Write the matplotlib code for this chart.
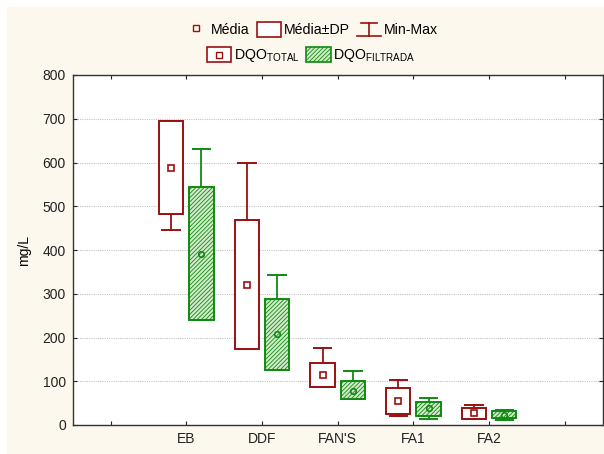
import numpy as np
import matplotlib.pyplot as plt
from matplotlib.patches import Rectangle, Patch
from matplotlib.lines import Line2D
from matplotlib.legend_handler import HandlerBase

plt.rcParams['font.family'] = ['Liberation Sans', 'DejaVu Sans']
plt.rcParams['hatch.linewidth'] = 0.6

# data (mg/L)
categories = ['EB', 'DDF', "FAN'S", 'FA1', 'FA2']
total_mean = [588, 321, 114, 56, 27]
total_lo = [482, 174, 88, 25, 13]      # média - DP
total_hi = [694, 468, 142, 84, 39]     # média + DP
total_min = [446, 174, 88, 20, 13]
total_max = [694, 599, 176, 104, 46]

filt_mean = [391, 208, 78, 38, 23]
filt_lo = [241, 126, 59, 21, 15]
filt_hi = [545, 287, 100, 53, 32]
filt_min = [240, 126, 59, 14, 12]
filt_max = [632, 344, 123, 61, 34]

RED = '#9a1010'
GREEN = '#108a10'
HATCH_FACE = '#d2ebcb'
CREAM = '#fdf8ee'

fig = plt.figure(figsize=(6.04, 4.54), dpi=100)
fig.patch.set_facecolor('white')
fig.patches.append(Rectangle((7 / 604, 0), 1, 1 - 7 / 454, transform=fig.transFigure,
                             facecolor=CREAM, edgecolor='none', zorder=-10))
ax = fig.add_axes([72.7 / 604, 29 / 454, 530 / 604, 350 / 454])
ax.set_facecolor('white')

x = np.arange(1, len(categories) + 1)
off, bw, cw = 0.2, 0.32, 0.23


def draw_series(xs, mean, lo, hi, mn, mx, color, hatched, marker, ms):
    for xi, m, l, h, a, b in zip(xs, mean, lo, hi, mn, mx):
        if hatched:
            ax.add_patch(Rectangle((xi - bw / 2, l), bw, h - l, facecolor=HATCH_FACE,
                                   edgecolor=color, hatch='////////', lw=0, zorder=3))
        ax.add_patch(Rectangle((xi - bw / 2, l), bw, h - l, facecolor='none' if hatched else 'white',
                               edgecolor=color, lw=1.4, zorder=4))
        if b > h:
            ax.plot([xi, xi], [h, b], color=color, lw=1.3, zorder=3)
        ax.plot([xi - cw / 2, xi + cw / 2], [b, b], color=color, lw=1.4, zorder=3)
        if a < l:
            ax.plot([xi, xi], [a, l], color=color, lw=1.3, zorder=3)
        ax.plot([xi - cw / 2, xi + cw / 2], [a, a], color=color, lw=1.4, zorder=3)
        ax.plot(xi, m, marker=marker, ms=ms, mfc='none', mec=color, mew=1.2, zorder=5)


draw_series(x - off, total_mean, total_lo, total_hi, total_min, total_max, RED, False, 's', 5)
draw_series(x + off, filt_mean, filt_lo, filt_hi, filt_min, filt_max, GREEN, True, 'o', 4)

ax.set_xlim(-0.5, 6.5)
ax.set_ylim(0, 800)
ax.set_xticks(np.arange(0, 7))
ax.set_xticklabels([''] + categories + [''])
ax.set_yticks(np.arange(0, 801, 100))
ax.yaxis.grid(True, color='#c4c4c4', ls=(0, (1, 1)), lw=0.8)
ax.set_axisbelow(True)
ax.tick_params(direction='in', length=3, top=True, right=True, labelsize=10, colors='#222222',
               pad=5)
for s in ax.spines.values():
    s.set_color('#333333')
    s.set_linewidth(1.0)
ax.set_ylabel('mg/L', fontsize=10, labelpad=8)


class MinMaxHandler(HandlerBase):
    def create_artists(self, legend, orig, xd, yd, w, h, fontsize, trans):
        cx = w / 2 - xd
        lo, hi = -yd + 0.05 * h, -yd + 0.95 * h
        l1 = Line2D([cx, cx], [lo, hi], color=RED, lw=1.2, transform=trans)
        l2 = Line2D([cx - w / 2, cx + w / 2], [lo, lo], color=RED, lw=1.2, transform=trans)
        l3 = Line2D([cx - w / 3, cx + w / 3], [hi, hi], color=RED, lw=1.2, transform=trans)
        return [l1, l2, l3]


class BoxMeanHandler(HandlerBase):
    def create_artists(self, legend, orig, xd, yd, w, h, fontsize, trans):
        r = Rectangle((-xd, -yd), w, h, facecolor='white', edgecolor=RED, lw=1.2, transform=trans)
        m = Line2D([w / 2 - xd], [h / 2 - yd], marker='s', ms=5, mfc='none', mec=RED, mew=1.0,
                   transform=trans)
        return [r, m]


mean_h = Line2D([], [], marker='s', ls='none', ms=4, mfc='none', mec=RED, mew=1.0)
sd_h = Patch(facecolor='white', edgecolor=RED, lw=1.2)
mm_h = object()
leg1 = fig.legend([mean_h, sd_h, mm_h], ['Média', 'Média±DP', 'Min-Max'],
                  handler_map={mm_h: MinMaxHandler()}, ncol=3, frameon=False,
                  loc='center', bbox_to_anchor=(0.515, 0.934), fontsize=10.2,
                  handlelength=1.7, handleheight=1.2, handletextpad=0.2, columnspacing=0.5)

tot_h = object()
filt_h = Patch(facecolor=HATCH_FACE, edgecolor=GREEN, hatch='////////', lw=1.2)
leg2 = fig.legend([tot_h, filt_h],
                  [r'DQO$_{\mathregular{TOTAL}}$', r'DQO$_{\mathregular{FILTRADA}}$'],
                  handler_map={tot_h: BoxMeanHandler()}, ncol=2, frameon=False,
                  loc='center', bbox_to_anchor=(0.515, 0.877), fontsize=10.2,
                  handlelength=1.7, handleheight=1.2, handletextpad=0.2, columnspacing=0.5)

fig.savefig('out.png', dpi=100, facecolor=fig.get_facecolor())
